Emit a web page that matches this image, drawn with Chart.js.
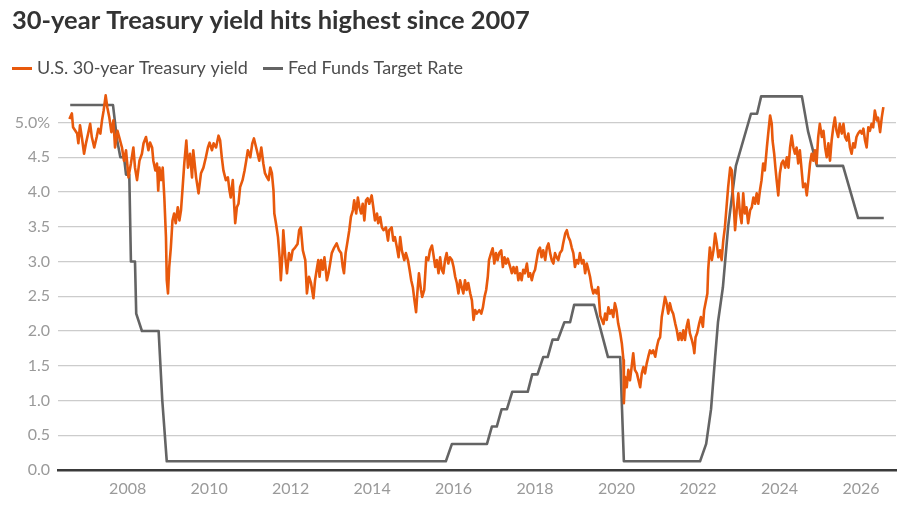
<!DOCTYPE html>
<html><head><meta charset="utf-8">
<script src="https://cdn.jsdelivr.net/npm/chart.js@4/dist/chart.umd.min.js"></script>
<style>html,body{margin:0;padding:0;background:#fff}#wrap{width:920px;height:516px;position:relative}</style>
</head><body><div id="wrap"><canvas id="c"></canvas></div>
<script>
const titleText = '30-year Treasury yield hits highest since 2007';
const seriesLabels = ['U.S. 30-year Treasury yield', 'Fed Funds Target Rate'];
const xTickYears = [2008, 2010, 2012, 2014, 2016, 2018, 2020, 2022, 2024, 2026];
const yTickValues = [0, 0.5, 1, 1.5, 2, 2.5, 3, 3.5, 4, 4.5, 5];

const yieldDates = [
2006.57,2006.63,2006.66,2006.76,2006.79,2006.83,2006.88,2006.93,2006.98,2007.03,
2007.08,2007.12,2007.18,2007.24,2007.28,2007.33,2007.37,2007.41,2007.46,2007.50,
2007.55,2007.60,2007.65,2007.69,2007.75,2007.80,2007.86,2007.91,2007.96,2008.02,
2008.08,2008.14,2008.18,2008.23,2008.29,2008.35,2008.39,2008.45,2008.51,2008.55,
2008.60,2008.63,2008.68,2008.72,2008.75,2008.78,2008.82,2008.86,2008.90,2008.94,
2008.96,2008.99,2009.02,2009.06,2009.10,2009.14,2009.18,2009.23,2009.27,2009.31,
2009.35,2009.39,2009.44,2009.48,2009.53,2009.58,2009.61,2009.68,2009.74,2009.80,
2009.86,2009.92,2009.97,2010.01,2010.07,2010.11,2010.17,2010.23,2010.27,2010.31,
2010.35,2010.41,2010.46,2010.50,2010.53,2010.58,2010.64,2010.68,2010.72,2010.76,
2010.82,2010.87,2010.91,2010.95,2011.01,2011.06,2011.10,2011.17,2011.23,2011.28,
2011.33,2011.37,2011.42,2011.46,2011.50,2011.54,2011.58,2011.60,2011.64,2011.69,
2011.73,2011.76,2011.80,2011.82,2011.87,2011.91,2011.96,2012.01,2012.05,2012.11,
2012.17,2012.21,2012.25,2012.30,2012.36,2012.40,2012.45,2012.50,2012.56,2012.60,
2012.64,2012.68,2012.71,2012.75,2012.79,2012.83,2012.89,2012.93,2012.97,2013.01,
2013.07,2013.13,2013.19,2013.24,2013.28,2013.31,2013.35,2013.40,2013.44,2013.48,
2013.53,2013.56,2013.61,2013.65,2013.69,2013.73,2013.77,2013.81,2013.85,2013.89,
2013.93,2013.99,2014.03,2014.07,2014.12,2014.15,2014.20,2014.24,2014.28,2014.34,
2014.39,2014.42,2014.48,2014.52,2014.56,2014.61,2014.65,2014.69,2014.73,2014.79,
2014.83,2014.88,2014.92,2014.96,2015.00,2015.04,2015.08,2015.11,2015.15,2015.20,
2015.23,2015.28,2015.33,2015.38,2015.42,2015.47,2015.50,2015.55,2015.59,2015.63,
2015.67,2015.71,2015.75,2015.79,2015.83,2015.87,2015.91,2015.96,2016.00,2016.04,
2016.08,2016.12,2016.16,2016.20,2016.24,2016.28,2016.32,2016.36,2016.41,2016.45,
2016.49,2016.53,2016.57,2016.63,2016.68,2016.72,2016.76,2016.80,2016.84,2016.87,
2016.92,2016.96,2017.00,2017.04,2017.08,2017.12,2017.17,2017.21,2017.25,2017.29,
2017.33,2017.39,2017.43,2017.47,2017.51,2017.55,2017.59,2017.63,2017.67,2017.71,
2017.75,2017.80,2017.84,2017.88,2017.92,2017.96,2018.00,2018.04,2018.08,2018.12,
2018.16,2018.20,2018.25,2018.29,2018.33,2018.37,2018.41,2018.45,2018.49,2018.53,
2018.57,2018.61,2018.66,2018.69,2018.74,2018.78,2018.82,2018.86,2018.90,2018.94,
2018.98,2019.02,2019.06,2019.10,2019.15,2019.19,2019.23,2019.27,2019.31,2019.35,
2019.39,2019.43,2019.47,2019.51,2019.55,2019.60,2019.64,2019.68,2019.72,2019.76,
2019.80,2019.84,2019.88,2019.92,2019.96,2020.00,2020.04,2020.09,2020.13,2020.17,
2020.18,2020.21,2020.25,2020.29,2020.33,2020.37,2020.41,2020.45,2020.50,2020.54,
2020.58,2020.62,2020.66,2020.70,2020.74,2020.78,2020.82,2020.86,2020.90,2020.95,
2020.99,2021.03,2021.07,2021.11,2021.15,2021.19,2021.23,2021.27,2021.31,2021.35,
2021.39,2021.44,2021.48,2021.52,2021.56,2021.60,2021.64,2021.68,2021.72,2021.76,
2021.80,2021.85,2021.89,2021.91,2021.94,2021.98,2022.03,2022.07,2022.12,2022.15,
2022.20,2022.23,2022.25,2022.29,2022.34,2022.38,2022.42,2022.46,2022.50,2022.54,
2022.58,2022.62,2022.66,2022.70,2022.74,2022.79,2022.83,2022.85,2022.88,2022.91,
2022.95,2022.99,2023.03,2023.07,2023.11,2023.15,2023.19,2023.23,2023.28,2023.32,
2023.36,2023.40,2023.44,2023.48,2023.52,2023.56,2023.60,2023.64,2023.69,2023.73,
2023.77,2023.81,2023.83,2023.87,2023.90,2023.93,2023.97,2024.01,2024.05,2024.09,
2024.14,2024.18,2024.22,2024.26,2024.30,2024.34,2024.38,2024.42,2024.46,2024.50,
2024.55,2024.58,2024.63,2024.67,2024.71,2024.75,2024.79,2024.83,2024.87,2024.91,
2024.95,2024.99,2025.04,2025.08,2025.12,2025.16,2025.20,2025.24,2025.28,2025.32,
2025.36,2025.40,2025.44,2025.48,2025.53,2025.57,2025.61,2025.65,2025.69,2025.73,
2025.77,2025.81,2025.85,2025.89,2025.93,2025.98,2026.02,2026.06,2026.10,2026.14,
2026.18,2026.22,2026.26,2026.30,2026.34,2026.39,2026.42,2026.47,2026.51,2026.55
];
const yieldValues = [
5.05,5.13,4.93,4.84,4.70,4.96,4.77,4.55,4.71,4.84,
4.98,4.79,4.64,4.79,4.91,4.84,5.03,5.17,5.39,5.22,
5.07,4.86,5.03,4.64,4.88,4.77,4.64,4.45,4.60,4.21,
4.41,4.64,4.35,4.17,4.45,4.55,4.70,4.79,4.60,4.71,
4.64,4.45,4.31,4.41,4.02,4.35,4.17,4.35,3.92,3.35,
2.73,2.54,2.92,3.20,3.59,3.69,3.55,3.78,3.59,3.74,
4.07,4.41,4.74,4.35,4.55,4.21,4.60,4.21,3.98,4.27,
4.35,4.50,4.64,4.71,4.60,4.70,4.64,4.81,4.74,4.50,
4.31,4.17,4.21,4.02,3.92,4.17,3.55,3.78,3.83,4.07,
4.17,4.31,4.45,4.60,4.50,4.70,4.77,4.60,4.45,4.64,
4.41,4.27,4.21,4.17,4.35,4.27,4.02,3.69,3.55,3.35,
3.06,2.73,3.12,3.45,3.06,2.83,3.12,3.02,3.16,3.20,
3.25,3.45,3.49,3.16,3.02,2.54,2.78,2.69,2.47,2.73,
2.88,3.02,2.78,3.02,2.88,3.06,2.73,2.83,2.97,3.12,
3.20,3.26,3.16,3.12,2.92,2.83,3.12,3.30,3.45,3.64,
3.74,3.88,3.69,3.92,3.78,3.69,3.83,3.59,3.88,3.91,
3.83,3.95,3.78,3.59,3.69,3.55,3.64,3.49,3.45,3.49,
3.30,3.45,3.49,3.30,3.35,3.20,3.06,3.35,3.16,3.02,
3.12,3.02,2.88,2.73,2.63,2.44,2.27,2.54,2.83,2.59,
2.49,2.59,3.06,3.02,3.16,3.23,3.12,2.92,3.02,2.83,
3.06,2.88,2.83,3.02,3.12,2.97,3.06,3.02,2.92,2.78,
2.69,2.54,2.73,2.63,2.54,2.73,2.59,2.69,2.54,2.44,
2.16,2.30,2.25,2.30,2.25,2.34,2.49,2.59,2.78,3.02,
3.12,3.19,2.97,3.12,3.02,3.12,3.16,2.92,3.06,2.97,
3.04,2.92,2.83,2.92,2.83,2.92,2.73,2.83,2.73,2.88,
2.83,2.97,2.78,2.83,2.73,2.83,2.88,3.02,3.16,3.20,
3.06,3.16,3.02,3.20,3.26,3.12,3.02,2.97,3.12,3.06,
3.02,3.12,3.16,3.26,3.40,3.45,3.35,3.30,3.20,3.12,
2.92,3.02,2.97,3.12,2.97,3.02,2.83,2.97,2.88,2.78,
2.63,2.54,2.59,2.54,2.63,2.22,2.16,2.10,2.25,2.16,
2.34,2.25,2.30,2.20,2.40,2.30,2.11,1.97,1.82,1.58,
0.96,1.34,1.19,1.44,1.29,1.48,1.68,1.44,1.39,1.29,
1.19,1.39,1.48,1.39,1.53,1.63,1.72,1.68,1.72,1.63,
1.77,1.87,1.91,2.20,2.34,2.49,2.40,2.25,2.40,2.30,
2.25,2.11,2.01,1.87,1.97,1.87,2.01,1.87,2.06,2.16,
1.97,1.87,1.77,1.68,1.91,1.97,2.11,2.20,2.06,2.30,
2.45,2.54,2.88,3.20,3.02,3.16,3.40,3.26,3.06,3.16,
3.02,3.30,3.49,3.78,4.07,4.35,4.31,4.02,3.78,3.45,
3.74,3.98,3.69,3.55,3.98,3.69,3.78,3.55,3.74,3.78,
3.92,3.83,3.98,3.83,4.02,4.17,4.41,4.31,4.64,4.88,
5.10,4.98,4.74,4.55,4.35,4.17,3.95,4.27,4.41,4.45,
4.35,4.50,4.35,4.64,4.81,4.64,4.55,4.64,4.41,4.60,
4.27,4.07,4.12,3.95,4.17,4.41,4.55,4.45,4.60,4.41,
4.79,4.98,4.79,4.88,4.64,4.50,4.70,4.45,4.74,4.93,
5.07,4.88,4.79,4.98,4.84,4.98,4.79,4.74,4.84,4.64,
4.55,4.70,4.64,4.79,4.84,4.88,4.84,4.91,4.74,4.64,
4.93,4.88,4.98,4.93,5.17,5.03,5.07,4.86,5.07,5.22
];

const fedDates = [
2006.59,2007.64,2007.74,2007.82,2007.91,2007.96,2008.04,2008.08,2008.18,2008.21,
2008.35,2008.76,2008.85,2008.96,2015.81,2015.96,2016.82,2016.94,2017.06,2017.18,
2017.31,2017.44,2017.82,2017.93,2018.06,2018.20,2018.31,2018.43,2018.56,2018.72,
2018.86,2018.96,2019.45,2019.79,2020.09,2020.18,2022.05,2022.20,2022.32,2022.42,
2022.49,2022.61,2022.74,2022.93,2023.30,2023.45,2023.55,2024.55,2024.70,2024.92,
2025.56,2025.93,2026.56
];
const fedValues = [
5.25,5.25,4.75,4.5,4.5,4.25,4.25,3.0,3.0,2.25,
2.0,2.0,1.0,0.125,0.125,0.375,0.375,0.625,0.625,0.875,
0.875,1.125,1.125,1.375,1.375,1.625,1.625,1.875,1.875,2.125,
2.125,2.375,2.375,1.625,1.625,0.125,0.125,0.375,0.875,1.625,
2.125,2.625,3.5,4.375,5.125,5.125,5.375,5.375,4.875,4.375,
4.375,3.625,3.625
];

const orange = '#e8590c';
const gray = '#646464';

function lineSwatch(color) {
  const c = document.createElement('canvas');
  c.width = 20; c.height = 3;
  const g = c.getContext('2d');
  g.fillStyle = color; g.fillRect(0, 0, 20, 3);
  return c;
}

const titleFamily = '"Liberation Sans Narrow", Lato, sans-serif';
function fitTitleSize() {
  const g = document.createElement('canvas').getContext('2d');
  g.font = 'bold 24px ' + titleFamily;
  const w = g.measureText(titleText).width;
  return Math.max(19, Math.min(26, 24 * 518 / w));
}
const titleSize = fitTitleSize();
const titlePadTop = Math.max(0, 21 - titleSize * 0.6);
const titlePadBottom = Math.max(0, 40 - titlePadTop - titleSize * 1.2);

const legendShift = {
  id: 'legendShift',
  afterLayout(chart) { if (chart.legend) chart.legend.left -= 15; }
};

new Chart(document.getElementById('c'), {
  type: 'line',
  data: {
    datasets: [
      {
        label: seriesLabels[0],
        data: yieldDates.map((d, i) => ({ x: d, y: yieldValues[i] })),
        borderColor: orange, backgroundColor: orange,
        borderWidth: 2.6, pointRadius: 0, pointHoverRadius: 0,
        pointStyle: lineSwatch(orange), tension: 0, borderJoinStyle: 'round'
      },
      {
        label: seriesLabels[1],
        data: fedDates.map((d, i) => ({ x: d, y: fedValues[i] })),
        borderColor: gray, backgroundColor: gray,
        borderWidth: 2.6, pointRadius: 0, pointHoverRadius: 0,
        pointStyle: lineSwatch(gray), tension: 0, borderJoinStyle: 'round'
      }
    ]
  },
  options: {
    responsive: true, maintainAspectRatio: false, animation: false,
    events: [],
    layout: { padding: { left: 12, right: 24, top: 0, bottom: 0 } },
    plugins: {
      title: {
        display: true, text: titleText, align: 'start', color: '#333333',
        font: { family: titleFamily, size: titleSize, weight: 'bold', lineHeight: 1.2 },
        padding: { top: titlePadTop, bottom: titlePadBottom }
      },
      legend: {
        display: true, align: 'start',
        labels: {
          usePointStyle: true, pointStyleWidth: 12, padding: 19,
          color: '#4d4d4d', font: { family: 'Lato', size: 18 }
        }
      },
      tooltip: { enabled: false }
    },
    scales: {
      x: {
        type: 'linear', min: 2006.29, max: 2026.86,
        afterBuildTicks: (s) => { s.ticks = xTickYears.map(v => ({ value: v })); },
        afterFit: (s) => { s.height = 46; },
        grid: { display: false, drawTicks: false },
        border: { display: true, color: '#3a3a3a', width: 2.6 },
        ticks: {
          autoSkip: false, maxRotation: 0, padding: 9, color: '#9a9a9a',
          font: { family: 'Lato', size: 16 },
          callback: (v) => String(v)
        }
      },
      y: {
        type: 'linear', min: 0, max: 5.51,
        afterBuildTicks: (s) => { s.ticks = yTickValues.map(v => ({ value: v })); },
        afterFit: (s) => { s.width = 46; },
        grid: { color: '#cccccc', lineWidth: 1.3, drawTicks: false },
        border: { display: false },
        ticks: {
          padding: 8, color: '#9a9a9a',
          font: { family: 'Lato', size: 16 },
          callback: (v) => v === 5 ? '5.0%' : Number(v).toFixed(1)
        }
      }
    }
  },
  plugins: [legendShift]
});
</script>
</body></html>
